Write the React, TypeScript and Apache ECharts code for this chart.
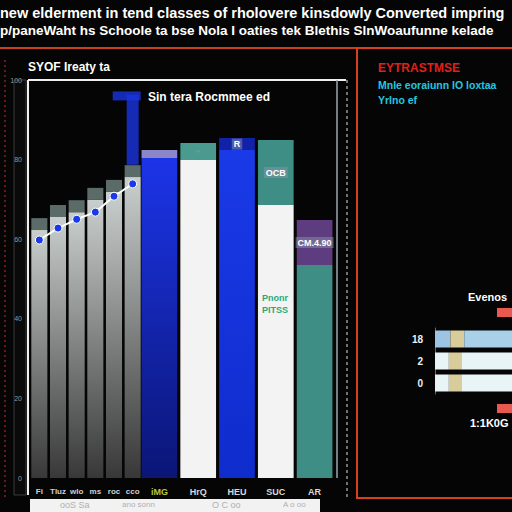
import React, { useEffect, useRef } from "react";
import * as echarts from "echarts";

const titleLines = [
  "new elderment in tend classes of rholovere kinsdowly Converted impring",
  "p/paneWaht hs Schoole ta bse Nola I oaties tek Blethis SlnWoaufunne kelade",
];
const leftCats = ["Fi", "Tluz", "wlo", "ms", "roc", "cco"];
const leftValues = [62.3, 65.6, 66.8, 69.9, 71.9, 75.6];
const leftCaps = [3, 3, 3, 3, 3, 3];
const lineValues = [59.8, 62.8, 65, 66.8, 70.8, 73.9];
const rightCats = ["iMG", "HrQ", "HEU", "SUC", "AR"];
const rightBase = [80.4, 79.9, 82.4, 68.6, 53.5];
const rightTop = [2, 4.3, 3, 16.3, 11.3];
const rightTopLabels = ["", "", "R", "OCB", "CM.4.90"];
const smallCats = ["0", "2", "18"];
const smallA = [18, 18, 20];
const smallB = [16, 16, 18];
const smallC = [200, 200, 200];
const stemValue = [null, null, null, null, null, 87.5];
const capValue = [null, null, null, null, null, 96];

const greyGrad = () =>
  new echarts.graphic.LinearGradient(0, 0, 0, 1, [
    { offset: 0, color: "#c9cfcd" },
    { offset: 1, color: "#383838" },
  ]);
const blueGrad = (a: string, b: string) =>
  new echarts.graphic.LinearGradient(0, 0, 0, 1, [
    { offset: 0, color: a },
    { offset: 1, color: b },
  ]);

export default function App() {
  const ref = useRef<HTMLDivElement>(null);
  useEffect(() => {
    const chart = echarts.init(ref.current!, null, { renderer: "svg" });
    const baseColors = [
      blueGrad("#1c34e8", "#0b1676"),
      "#f3f3f3",
      blueGrad("#1a3ae8", "#0f2ccc"),
      "#f3f3f3",
      "#3f8e86",
    ];
    const topColors = ["#8a86c8", "#4a9a90", "#1222a8", "#3f8e86", "#5d3d80"];
    const font = "'Liberation Sans', Arial, sans-serif";
    chart.setOption({
      animation: false,
      backgroundColor: "#050505",
      textStyle: { fontFamily: font },
      grid: [
        { left: 30, top: 80, width: 112, height: 398 },
        { left: 140, top: 80, width: 194, height: 398 },
        { left: 435, top: 328, width: 90, height: 66 },
      ],
      xAxis: [
        {
          gridIndex: 0,
          type: "category",
          data: leftCats,
          axisLine: { show: false },
          axisTick: { show: false },
          axisLabel: { color: "#d0d0d0", fontSize: 8, fontWeight: "bold", margin: 9, interval: 0 },
        },
        {
          gridIndex: 1,
          type: "category",
          data: rightCats,
          axisLine: { show: false },
          axisTick: { show: false },
          axisLabel: {
            color: "#d8d8d8",
            fontSize: 9,
            fontWeight: "bold",
            margin: 9,
            interval: 0,
            formatter: (v: string, i: number) => (i === 0 ? "{g|" + v + "}" : v),
            rich: { g: { color: "#b8c840", fontSize: 9, fontWeight: "bold" } },
          },
        },
        {
          gridIndex: 2,
          type: "value",
          min: 0,
          max: 100,
          show: false,
        },
      ],
      yAxis: [
        {
          gridIndex: 0,
          type: "value",
          min: 0,
          max: 100,
          interval: 20,
          splitLine: { show: false },
          axisLine: { show: false },
          axisLabel: { color: "#8a9aa0", fontSize: 7, margin: 8 },
        },
        { gridIndex: 1, type: "value", min: 0, max: 100, show: false },
        {
          gridIndex: 2,
          type: "category",
          data: smallCats,
          axisLine: { show: true, lineStyle: { color: "#666" } },
          axisTick: { show: false },
          axisLabel: { color: "#f0f0f0", fontSize: 10, fontWeight: "bold", margin: 12 },
        },
      ],
      series: [
        {
          type: "bar",
          xAxisIndex: 0,
          yAxisIndex: 0,
          stack: "g",
          data: leftValues,
          barCategoryGap: "14%",
          itemStyle: { color: greyGrad() },
        },
        {
          type: "bar",
          xAxisIndex: 0,
          yAxisIndex: 0,
          stack: "g",
          data: leftCaps,
          itemStyle: { color: "#5b6b68" },
        },
        {
          type: "line",
          xAxisIndex: 0,
          yAxisIndex: 0,
          data: lineValues,
          symbol: "circle",
          symbolSize: 8,
          lineStyle: { color: "#ffffff", width: 2 },
          itemStyle: { color: "#1a3ae8", borderColor: "#ffffff", borderWidth: 1 },
          z: 5,
        },
        {
          type: "scatter",
          xAxisIndex: 0,
          yAxisIndex: 0,
          data: stemValue,
          symbol: "rect",
          symbolSize: [12, 70],
          itemStyle: { color: "#1a34e0" },
          z: 4,
        },
        {
          type: "scatter",
          xAxisIndex: 0,
          yAxisIndex: 0,
          data: capValue,
          symbol: "rect",
          symbolSize: [28, 9],
          symbolOffset: [-6, 0],
          itemStyle: { color: "#1a34e0" },
          z: 4,
        },
        {
          type: "bar",
          xAxisIndex: 1,
          yAxisIndex: 1,
          stack: "w",
          barCategoryGap: "8%",
          data: rightBase.map((v, i) => ({ value: v, itemStyle: { color: baseColors[i] } })),
        },
        {
          type: "bar",
          xAxisIndex: 1,
          yAxisIndex: 1,
          stack: "w",
          data: rightTop.map((v, i) => ({ value: v, itemStyle: { color: topColors[i] } })),
          label: {
            show: true,
            position: "inside",
            formatter: (p: any) => rightTopLabels[p.dataIndex],
            color: "#ffffff",
            fontSize: 9,
            fontWeight: "bold",
            backgroundColor: "rgba(140,150,170,0.5)",
            padding: [1, 2],
          },
        },
        {
          type: "bar",
          xAxisIndex: 2,
          yAxisIndex: 2,
          stack: "s",
          barWidth: 17,
          data: smallA.map((v, i) => ({ value: v, itemStyle: { color: i === 2 ? "#9cc4e4" : "#e8f4f6" } })),
        },
        {
          type: "bar",
          xAxisIndex: 2,
          yAxisIndex: 2,
          stack: "s",
          data: smallB,
          itemStyle: { color: "#d8cc9a" },
        },
        {
          type: "bar",
          xAxisIndex: 2,
          yAxisIndex: 2,
          stack: "s",
          data: smallC.map((v, i) => ({ value: v, itemStyle: { color: i === 2 ? "#a8d0e8" : "#e8f4f6" } })),
        },
      ],
      graphic: [
        { type: "text", left: 0, top: 5, style: { text: titleLines[0], fill: "#ffffff", font: "bold 14.5px " + font } },
        { type: "text", left: 0, top: 23, style: { text: titleLines[1], fill: "#ffffff", font: "bold 13.5px " + font } },
        { type: "line", shape: { x1: 0, y1: 48, x2: 512, y2: 48 }, style: { stroke: "#c8401c", lineWidth: 2 } },
        { type: "rect", shape: { x: 357, y: 48, width: 160, height: 450 }, style: { fill: "none", stroke: "#d8401c", lineWidth: 2 } },
        { type: "line", shape: { x1: 5, y1: 60, x2: 5, y2: 500 }, style: { stroke: "#6a1a14", lineWidth: 2, lineDash: [2, 3] } },
        { type: "rect", shape: { x: 14, y: 80, width: 12, height: 415 }, style: { fill: "#0a0a0a", stroke: "#3a3a3a", lineWidth: 1 } },
        { type: "line", shape: { x1: 28, y1: 80, x2: 346, y2: 80 }, style: { stroke: "#f0f0f0", lineWidth: 2 } },
        { type: "line", shape: { x1: 28, y1: 80, x2: 28, y2: 495 }, style: { stroke: "#f0f0f0", lineWidth: 2 } },
        { type: "line", shape: { x1: 337, y1: 80, x2: 337, y2: 478 }, style: { stroke: "#9aa8b0", lineWidth: 1.5 } },
        { type: "line", shape: { x1: 347, y1: 80, x2: 347, y2: 500 }, style: { stroke: "#e0e0e0", lineWidth: 1, lineDash: [3, 3] } },
        { type: "text", left: 28, top: 61, style: { text: "SYOF Ireaty ta", fill: "#ffffff", font: "bold 12px " + font } },
        { type: "text", left: 148, top: 91, style: { text: "Sin tera Rocmmee ed", fill: "#ffffff", font: "bold 12px " + font } },
        { type: "text", z: 100, left: 262, top: 292, style: { text: "Pnonr\nPITSS", fill: "#2aa878", font: "bold 9px " + font, lineHeight: 12 } },
        { type: "text", left: 378, top: 62, style: { text: "EYTRASTMSE", fill: "#e0201a", font: "bold 12px " + font } },
        { type: "text", left: 378, top: 77, style: { text: "Mnle eoraiunn IO loxtaa\nYrlno ef", fill: "#22c8e0", font: "bold 10.5px " + font, lineHeight: 15 } },
        { type: "text", left: 468, top: 291, style: { text: "Evenos", fill: "#ffffff", font: "bold 11px " + font } },
        { type: "text", left: 470, top: 417, style: { text: "1:1K0G", fill: "#ffffff", font: "bold 11px " + font } },
        { type: "rect", shape: { x: 497, y: 308, width: 20, height: 9 }, style: { fill: "#e85a50" } },
        { type: "rect", shape: { x: 497, y: 404, width: 20, height: 9 }, style: { fill: "#e85a50" } },
        { type: "rect", shape: { x: 30, y: 499, width: 290, height: 14 }, style: { fill: "#f2f2f2" } },
        { type: "text", left: 60, top: 500, style: { text: "ooS Sa", fill: "#b0b0b0", font: "9px " + font } },
        { type: "text", left: 122, top: 500, style: { text: "ano sonn", fill: "#b0b0b0", font: "8px " + font } },
        { type: "text", left: 212, top: 500, style: { text: "O C oo", fill: "#b0b0b0", font: "9px " + font } },
        { type: "text", left: 283, top: 500, style: { text: "A o oo", fill: "#b0b0b0", font: "8px " + font } },
      ],
    });
    return () => chart.dispose();
  }, []);
  return <div ref={ref} style={{ width: 512, height: 512, position: "absolute", left: 0, top: 0 }} />;
}
